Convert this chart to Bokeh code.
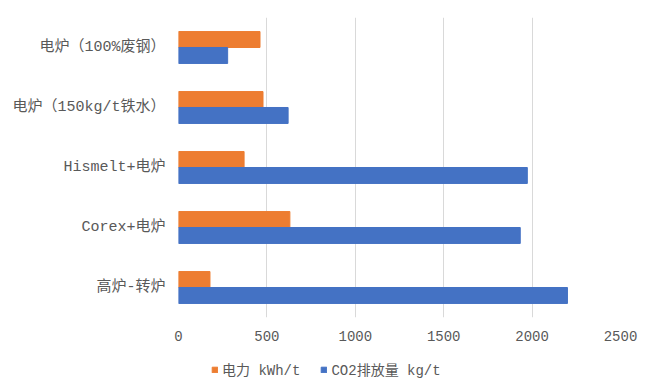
from bokeh.plotting import figure
from bokeh.models import FactorRange, Range1d, Legend, LegendItem, FixedTicker
from bokeh.layouts import column
from bokeh.transform import dodge
from bokeh.embed import file_html
from bokeh.resources import INLINE

categories = ["电炉（100%废钢）", "电炉（150kg/t铁水）", "Hismelt+电炉", "Corex+电炉", "高炉-转炉"]
power_kwh = [461, 478, 371, 630, 178]
co2_kg = [278, 620, 1973, 1933, 2200]
series_names = ["电力 kWh/t", "CO2排放量 kg/t"]
x_ticks = [0, 500, 1000, 1500, 2000, 2500]

FONT = "'Liberation Mono', 'Noto Sans CJK SC'"
ORANGE = "#ED7D31"
BLUE = "#4472C4"
TXT = "#595959"

source = dict(cat=categories, power=power_kwh, co2=co2_kg)

p = figure(width=660, height=345, output_backend="svg", toolbar_location=None,
           y_range=FactorRange(factors=list(reversed(categories)), range_padding=0),
           x_range=Range1d(0, 2500),
           min_border_left=178, min_border_right=40, min_border_top=17, min_border_bottom=28)

r1 = p.hbar(y=dodge("cat", 0.133, range=p.y_range), right="power", left=0, height=0.266,
            color=ORANGE, source=source)
r2 = p.hbar(y=dodge("cat", -0.133, range=p.y_range), right="co2", left=0, height=0.266,
            color=BLUE, source=source)

p.outline_line_color = None
p.background_fill_color = "white"
p.border_fill_color = "white"
p.ygrid.grid_line_color = None
p.xgrid.grid_line_color = "#D9D9D9"
p.xgrid.grid_line_width = 1
p.xaxis.ticker = FixedTicker(ticks=x_ticks)

for ax in (p.xaxis[0], p.yaxis[0]):
    ax.axis_line_color = None
    ax.major_tick_line_color = None
    ax.minor_tick_line_color = None
    ax.major_label_text_color = TXT
    ax.major_label_text_font = FONT
p.yaxis.major_label_text_font_size = "15px"
p.xaxis.major_label_text_font_size = "14px"
p.xaxis.major_label_standoff = 7
p.yaxis.major_label_standoff = 7

# legend in a separate strip below the chart (its frame is aligned with the chart frame)
lg = figure(width=660, height=44, output_backend="svg", toolbar_location=None,
            min_border_left=0, min_border_right=0, min_border_top=0, min_border_bottom=0,
            x_range=Range1d(0, 1), y_range=Range1d(0, 1))
lg.axis.visible = False
lg.grid.visible = False
lg.outline_line_color = None
lg.background_fill_color = "white"
lg.border_fill_color = "white"
# legend proxies, kept outside the visible range
proxy = dict(y=[-5], right=[-5])
d1 = lg.hbar(y="y", right="right", left=-6, height=0.5, color=ORANGE, source=dict(proxy))
d2 = lg.hbar(y="y", right="right", left=-6, height=0.5, color=BLUE, source=dict(proxy))
legend = Legend(items=[LegendItem(label=series_names[0], renderers=[d1]),
                       LegendItem(label=series_names[1], renderers=[d2])],
                orientation="horizontal", location=(33, 10),
                label_text_font=FONT, label_text_font_size="14px", label_text_color=TXT,
                glyph_width=7, glyph_height=7, spacing=20, label_standoff=4,
                border_line_color=None, background_fill_alpha=0, padding=0, margin=0)
lg.add_layout(legend, "center")

layout = column(p, lg, spacing=0)
open("out.html", "w").write(file_html(layout, INLINE))
